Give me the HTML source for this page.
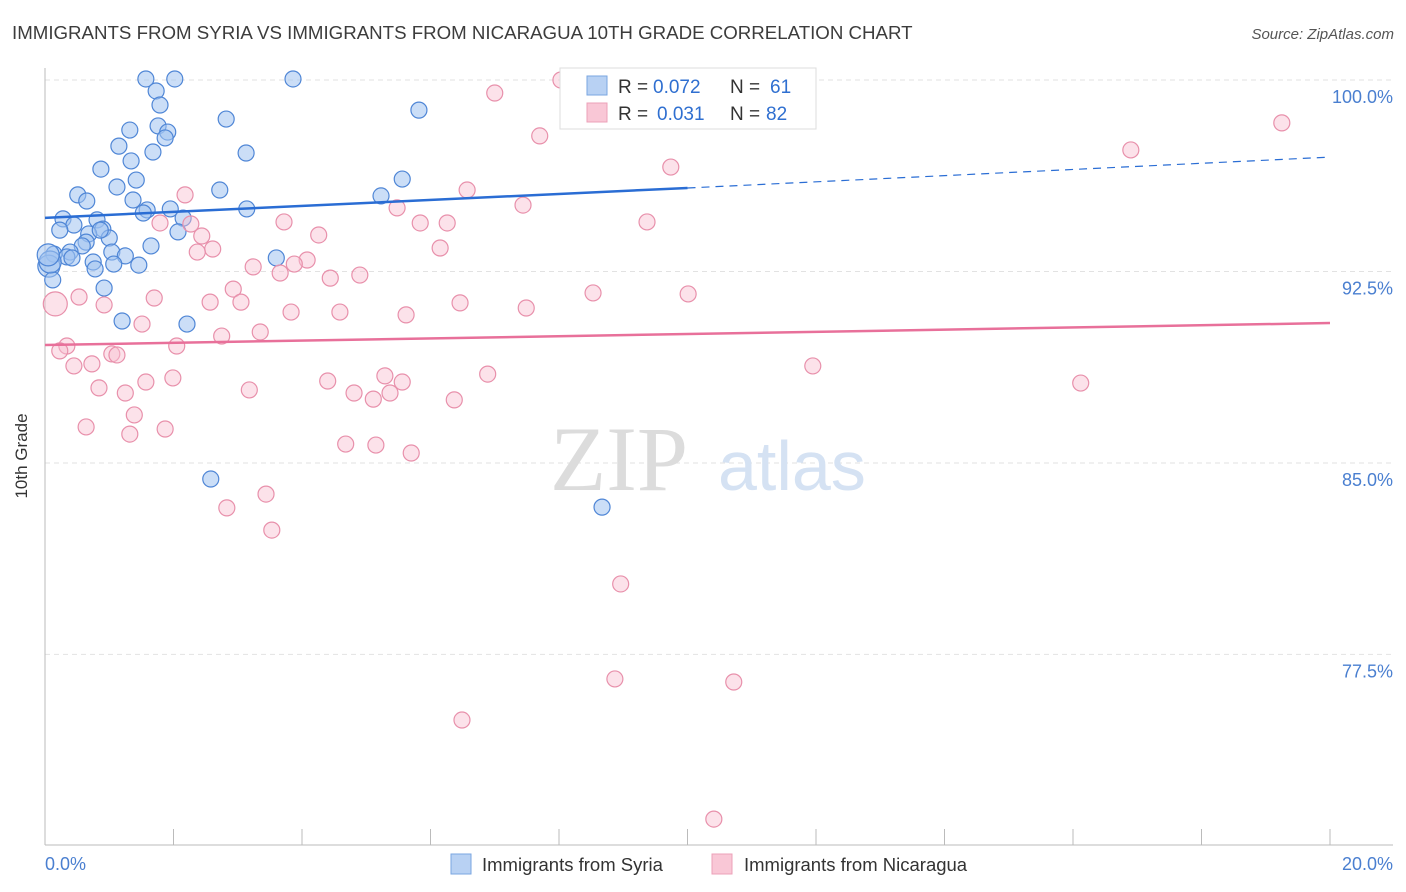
<!DOCTYPE html>
<html><head><meta charset="utf-8"><style>
body{margin:0;background:#fff;font-family:"Liberation Sans",sans-serif}
svg{display:block}
</style></head><body>
<svg width="1406" height="892" xmlns="http://www.w3.org/2000/svg">
<text x="12" y="39" font-size="18.7" fill="#3c3c3c">IMMIGRANTS FROM SYRIA VS IMMIGRANTS FROM NICARAGUA 10TH GRADE CORRELATION CHART</text>
<text x="1394" y="39" font-size="15" font-style="italic" fill="#555" text-anchor="end">Source: ZipAtlas.com</text>
<g id="grid"></g>
<text x="688" y="490" font-size="92" font-family="Liberation Serif,serif" fill="#dcdcdc" text-anchor="end">ZIP</text>
<text x="718" y="490" font-size="70" fill="#d5e2f3">atlas</text>
<g id="axes"></g>
<g id="pts"></g>
<g id="trend"></g>
<text x="27" y="456" font-size="17" fill="#333" text-anchor="middle" transform="rotate(-90 27 456)">10th Grade</text>
<text x="45" y="870" font-size="18" fill="#4a7fd0">0.0%</text>
<text x="1393" y="870" font-size="18" fill="#4a7fd0" text-anchor="end">20.0%</text>
<g>
<rect x="560" y="68" width="256" height="61" fill="#fff" stroke="#ddd"/>
<rect x="587" y="76" width="20" height="19" fill="#b8d1f3" stroke="#7aa6e0"/>
<rect x="587" y="103" width="20" height="19" fill="#f9c7d6" stroke="#eca1b8"/>
<text x="618" y="93" font-size="19" fill="#333">R =</text>
<text x="653" y="93" font-size="19" fill="#2f6fd0">0.072</text>
<text x="730" y="93" font-size="19" fill="#333">N =</text>
<text x="770" y="93" font-size="19" fill="#2f6fd0">61</text>
<text x="618" y="120" font-size="19" fill="#333">R =</text>
<text x="657" y="120" font-size="19" fill="#2f6fd0">0.031</text>
<text x="730" y="120" font-size="19" fill="#333">N =</text>
<text x="766" y="120" font-size="19" fill="#2f6fd0">82</text>
</g>
<g>
<rect x="451" y="854" width="20" height="20" fill="#b8d1f3" stroke="#7aa6e0"/>
<text x="482" y="871" font-size="18.5" fill="#333">Immigrants from Syria</text>
<rect x="712" y="854" width="20" height="20" fill="#f9c7d6" stroke="#eca1b8"/>
<text x="744" y="871" font-size="18.5" fill="#333">Immigrants from Nicaragua</text>
</g>
</svg>
<script>
const yTicks=[100,92.5,85,77.5];
const yTickLabels=["100.0%","92.5%","85.0%","77.5%"];
const xTicks=[0,2,4,6,8,10,12,14,16,18,20];
const syriaX=[1.57,2.02,3.86,1.73,1.79,5.82,2.82,1.32,1.76,1.91,1.87,1.15,1.68,3.13,1.34,0.87,1.42,5.56,1.12,2.72,0.51,5.23,0.65,1.37,1.59,1.95,3.14,1.53,0.28,0.81,0.45,2.15,0.23,2.07,0.90,0.68,0.64,1.00,0.58,1.65,0.39,1.04,1.25,0.14,3.60,0.34,0.75,1.07,1.46,0.06,0.78,0.12,0.92,1.20,2.21,2.58,8.67,0.08,0.05,0.42,0.86];
const syriaY=[100.04,100.04,100.04,99.57,99.02,98.82,98.47,98.04,98.20,97.96,97.73,97.41,97.18,97.14,96.83,96.51,96.08,96.12,95.81,95.69,95.50,95.46,95.26,95.30,94.91,94.95,94.95,94.79,94.56,94.52,94.32,94.59,94.12,94.05,94.16,93.97,93.65,93.81,93.50,93.50,93.26,93.26,93.11,93.18,93.03,93.07,92.87,92.79,92.75,92.71,92.60,92.17,91.85,90.56,90.44,84.37,83.27,92.87,93.15,93.03,94.12];
const nicX=[9.77,8.03,7.00,19.25,7.70,16.90,9.74,6.57,2.18,7.44,5.48,9.37,3.72,5.84,6.26,1.79,2.27,2.44,4.26,6.15,2.61,2.37,4.08,3.24,3.88,3.66,4.44,4.90,2.93,8.53,10.01,0.53,1.70,6.46,2.57,3.05,0.92,7.49,0.16,3.83,4.59,5.62,1.51,3.35,2.75,0.34,2.05,0.23,1.04,1.12,11.95,0.45,0.73,6.89,5.29,16.12,1.99,5.56,4.40,1.57,0.84,3.18,4.81,5.37,1.25,6.37,5.11,1.39,0.64,1.87,1.32,4.68,5.15,5.70,3.44,2.83,3.53,8.96,8.87,10.72,6.49,10.41];
const nicY=[100.04,100.00,99.49,98.32,97.81,97.26,96.59,95.69,95.50,95.10,94.99,94.44,94.44,94.40,94.40,94.40,94.36,93.89,93.93,93.42,93.38,93.26,92.95,92.68,92.79,92.44,92.24,92.36,91.81,91.66,91.62,91.50,91.46,91.27,91.30,91.30,91.19,91.07,91.23,90.91,90.91,90.80,90.44,90.13,89.97,89.58,89.58,89.39,89.27,89.23,88.80,88.80,88.88,88.48,88.41,88.13,88.33,88.17,88.21,88.17,87.94,87.86,87.74,87.74,87.74,87.47,87.50,86.88,86.41,86.33,86.13,85.74,85.70,85.39,83.78,83.24,82.37,80.26,76.54,76.42,74.93,71.05];
const syriaTrend=[94.6,95.77,96.98];
const nicTrend=[89.62,90.48];
const NS="http://www.w3.org/2000/svg";
const X=v=>45+v*64.25, Y=v=>80+(100-v)*25.53;
function mk(p,t,a){const e=document.createElementNS(NS,t);for(const k in a)e.setAttribute(k,a[k]);p.appendChild(e);return e;}
const grid=document.getElementById('grid'),axes=document.getElementById('axes'),pts=document.getElementById('pts'),tr=document.getElementById('trend');
yTicks.forEach((v,i)=>{
 const l=mk(grid,'line',{x1:45,x2:1393,y1:Y(v),y2:Y(v),stroke:'#e2e2e2','stroke-dasharray':'5,4'});
 
 
 const t=mk(grid,'text',{x:1393,y:Y(v)+23,'font-size':18,fill:'#4a7fd0','text-anchor':'end'});
 t.textContent=yTickLabels[i];
 
 
});
const ya=mk(axes,'line',{x1:45,x2:45,y1:68,y2:845,stroke:'#bbb'});


const xa=mk(axes,'line',{x1:45,x2:1393,y1:845,y2:845,stroke:'#bbb'});


xTicks.forEach(v=>{const t=mk(axes,'line',{x1:X(v),x2:X(v),y1:829,y2:845,stroke:'#bbb'});
 
 });
syriaX.forEach((x,i)=>{const c=mk(pts,'circle',{cx:X(x),cy:Y(syriaY[i]),r:(x<0.1?11:8),fill:'rgba(160,195,240,0.55)',stroke:'#4f86d6','stroke-width':1.2});
 
 });
nicX.forEach((x,i)=>{const c=mk(pts,'circle',{cx:X(x),cy:Y(nicY[i]),r:(x<0.2?12:8),fill:'rgba(248,190,208,0.45)',stroke:'#e890ab','stroke-width':1.2});
 
 });
const s1=mk(tr,'line',{x1:X(0),y1:Y(syriaTrend[0]),x2:X(10),y2:Y(syriaTrend[1]),stroke:'#2a6dd4','stroke-width':2.5});


const s2=mk(tr,'line',{x1:X(10),y1:Y(syriaTrend[1]),x2:X(20),y2:Y(syriaTrend[2]),stroke:'#2a6dd4','stroke-width':1.2,'stroke-dasharray':'8,6'});


const n1=mk(tr,'line',{x1:X(0),y1:Y(nicTrend[0]),x2:X(20),y2:Y(nicTrend[1]),stroke:'#e8709a','stroke-width':2.5});


</script>
</body></html>
